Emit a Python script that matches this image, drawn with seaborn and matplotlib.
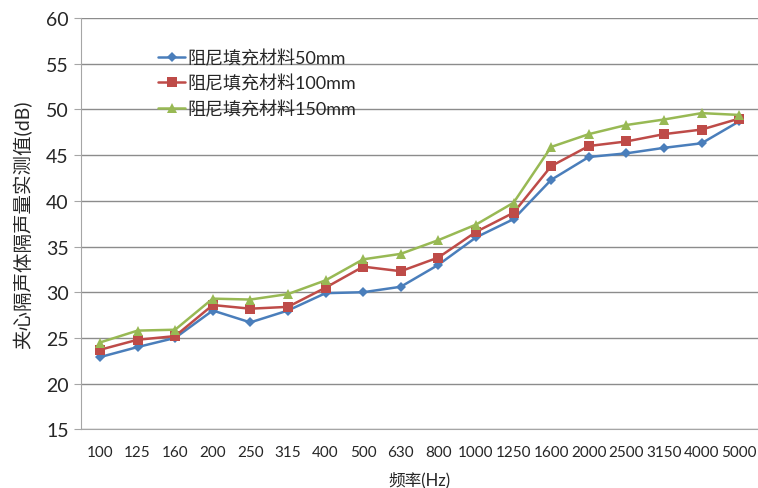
import pandas as pd
import seaborn as sns
import matplotlib.pyplot as plt

freqs = ['100', '125', '160', '200', '250', '315', '400', '500', '630', '800',
         '1000', '1250', '1600', '2000', '2500', '3150', '4000', '5000']
fill_50 = [22.9, 24.0, 25.0, 28.0, 26.7, 28.0, 29.9, 30.0, 30.6, 33.0,
           36.0, 38.0, 42.3, 44.8, 45.2, 45.8, 46.3, 48.7]
fill_100 = [23.7, 24.8, 25.2, 28.6, 28.2, 28.4, 30.5, 32.8, 32.3, 33.8,
            36.6, 38.7, 43.8, 46.0, 46.5, 47.3, 47.8, 49.0]
fill_150 = [24.5, 25.8, 25.9, 29.3, 29.2, 29.8, 31.3, 33.6, 34.2, 35.7,
            37.4, 39.8, 45.9, 47.3, 48.3, 48.9, 49.6, 49.4]
names = ['阻尼填充材料50mm', '阻尼填充材料100mm', '阻尼填充材料150mm']

df = pd.DataFrame({'freq': freqs, names[0]: fill_50, names[1]: fill_100, names[2]: fill_150})
df_long = df.melt(id_vars='freq', var_name='series', value_name='value')

sns.set_style('white')
plt.rcParams['font.family'] = ['Lato', 'Noto Sans CJK SC', 'DejaVu Sans']

fig, ax = plt.subplots(figsize=(7.58, 4.89), dpi=100)
fig.subplots_adjust(left=0.107, right=1.0, top=0.961, bottom=0.12)

palette = ['#4A7EBB', '#BE4B48', '#98B954']
sns.lineplot(data=df_long, x='freq', y='value', hue='series', style='series',
             palette=palette, markers=['D', 's', '^'], dashes=False,
             markersize=7, linewidth=1.8, markeredgewidth=0, sort=False, ax=ax)
# smaller diamonds like the original
ax.lines[0].set_markersize(5.5)

ax.set_xlim(-0.5, len(freqs) - 0.5)
ax.set_ylim(15, 60)
ax.set_yticks(range(15, 61, 5))
ax.grid(axis='y', color='#8c8c8c', linewidth=1)
ax.set_axisbelow(True)
for s in ['top', 'right']:
    ax.spines[s].set_visible(False)
for s in ['left', 'bottom']:
    ax.spines[s].set_color('#a6a6a6')
ax.tick_params(axis='y', left=True, length=5, color='#a6a6a6', labelsize=14, pad=4)
ax.tick_params(axis='x', bottom=False, labelsize=11, pad=8)

ax.set_xlabel('频率(Hz)', fontsize=12, labelpad=8)
ax.set_ylabel('夹心隔声体隔声量实测值(dB)', fontsize=14, labelpad=10)

leg = ax.legend(loc='upper left', bbox_to_anchor=(0.09, 0.965), frameon=False,
                fontsize=13, handlelength=1.5, handletextpad=0.1, labelspacing=0.45)
leg.legend_handles[0].set_markersize(5.5)

plt.savefig('out.png', dpi=100)
